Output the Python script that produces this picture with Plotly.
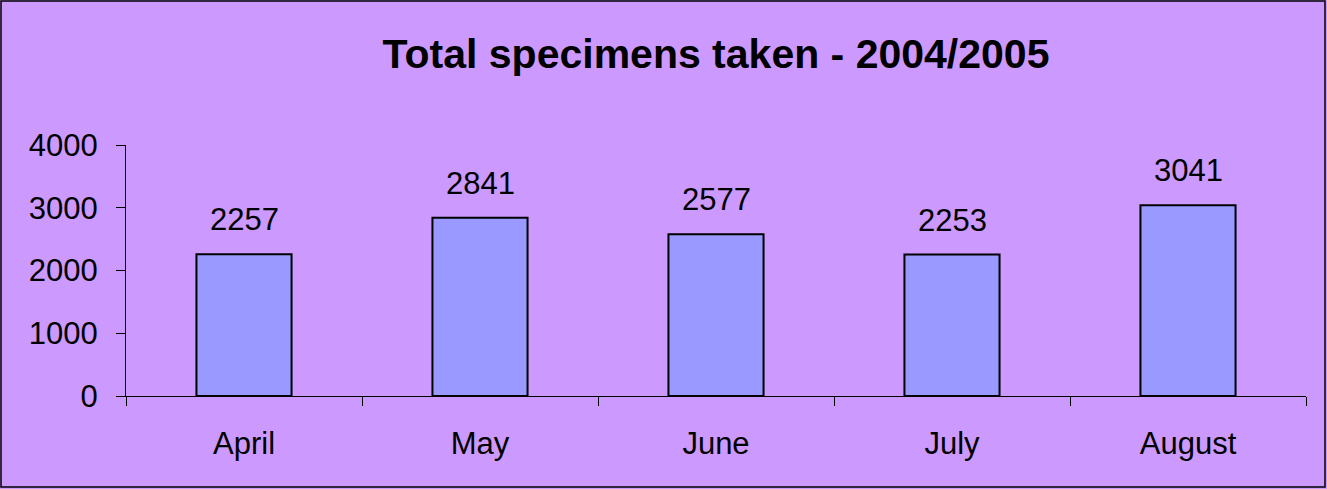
import plotly.graph_objects as go

categories = ["April", "May", "June", "July", "August"]
values = [2257, 2841, 2577, 2253, 3041]
y_ticks = [0, 1000, 2000, 3000, 4000]
title_text = "Total specimens taken - 2004/2005"

W, H = 1327, 489
L, R, T, B = 126, 21, 145, 93
pw, ph = W - L - R, H - T - B

fig = go.Figure()
fig.add_trace(go.Bar(
    x=categories, y=values,
    marker=dict(color="#9999FF", line=dict(color="black", width=2)),
    width=0.403,
))

for c, v in zip(categories, values):
    fig.add_annotation(x=c, y=v, text=str(v), showarrow=False,
                       yanchor="bottom", yshift=15,
                       font=dict(family="Liberation Sans, Arial", size=31, color="black"))

# figure border
fig.add_shape(type="rect", xref="paper", yref="paper",
              x0=(1 - L) / pw, x1=(W - 2 - L) / pw,
              y0=(H - B - (H - 2)) / ph, y1=(H - B - 1) / ph,
              line=dict(color="black", width=1.5), fillcolor="rgba(0,0,0,0)")

fig.update_layout(
    width=W, height=H,
    margin=dict(l=L, r=R, t=T, b=B, pad=0),
    paper_bgcolor="#CC99FF", plot_bgcolor="#CC99FF",
    showlegend=False,
    title=dict(text="<b>" + title_text + "</b>", x=0.5, xref="paper", xanchor="center",
               y=1 - 54 / H, yanchor="middle", yref="container",
               font=dict(family="Liberation Sans, Arial", size=41, color="black")),
    font=dict(family="Liberation Sans, Arial", size=30, color="black"),
    xaxis=dict(showgrid=False, zeroline=False, showline=True, linecolor="black", linewidth=1,
               ticks="outside", tickson="boundaries", ticklen=9, tickcolor="black",
               ticklabelstandoff=20, tickfont=dict(size=31)),
    yaxis=dict(range=[0, 4000], tickvals=y_ticks, showgrid=False, zeroline=False,
               showline=True, linecolor="black", linewidth=1,
               ticks="outside", ticklen=9, tickcolor="black",
               ticklabelstandoff=12, tickfont=dict(size=31)),
)

fig.write_html("out.html", config={"displayModeBar": False},
               post_script="document.body.style.margin='0';document.body.style.overflow='hidden';")
